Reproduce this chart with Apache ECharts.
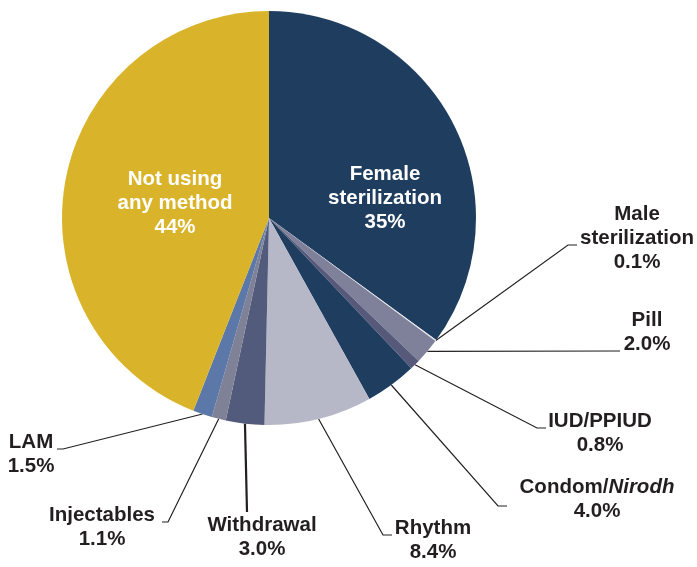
<!DOCTYPE html>
<html>
<head>
<meta charset="utf-8">
<script src="https://cdn.jsdelivr.net/npm/echarts@6/dist/echarts.min.js"></script>
<style>
html,body{margin:0;padding:0;background:#fff;}
#chart{width:697px;height:567px;}
</style>
</head>
<body>
<div id="chart"></div>
<script>
const categories = ['Female\nsterilization','Male\nsterilization','Pill','IUD/PPIUD','Condom/Nirodh','Rhythm','Withdrawal','Injectables','LAM','Not using\nany method'];
const values = [35, 0.1, 2.0, 0.8, 4.0, 8.4, 3.0, 1.1, 1.5, 44];
const colors = ['#1f3e5f','#e8e9ef','#7f8099','#56597a','#1f3e5f','#b6b8c8','#525b7c','#7f8297','#5b78a8','#d9b42a'];

// label anchors (center x, middle y) and leader-line elbows
const labelAnchors = [
  [385, 198], [637, 238], [647, 332], [600, 433], [597, 499],
  [433, 540], [262, 537], [102, 527], [31, 454], [175, 203]
];
const elbows = [
  null, [[568,245],[577,245]], [[619,351],[620,351]], [[537,428],[546,428]],
  [[498,506],[507,506]], [[383,535],[392,535]], [[247,512],[247,512]],
  [[168,522],[162,522]], [[63,449],[57,449]], null
];
const insideIdx = [0, 9];

function pctText(v){ return v >= 10 ? Math.round(v) + '%' : v.toFixed(1) + '%'; }

const chart = echarts.init(document.getElementById('chart'), null, {renderer:'canvas'});
const data = categories.map((c, i) => {
  const inside = insideIdx.indexOf(i) >= 0;
  return {
    name: c,
    value: values[i],
    itemStyle: {color: colors[i]},
    label: inside ? {color:'#ffffff'} : {},
    labelLine: {show: !inside, lineStyle: {width: i === 6 ? 2.2 : 1.2}}
  };
});

chart.setOption({
  animation: false,
  series: [{
    type: 'pie',
    center: [269, 218],
    radius: 207,
    startAngle: 90,
    clockwise: true,
    silent: true,
    avoidLabelOverlap: false,
    minShowLabelAngle: 0,
    data: data,
    label: {
      show: true,
      color: '#231f20',
      fontFamily: 'Liberation Sans, Arial, sans-serif',
      fontWeight: 'bold',
      fontSize: 20.5,
      lineHeight: 24,
      align: 'center',
      formatter: function(p){
        const name = p.name.replace('Nirodh', '{i|Nirodh}');
        return name + '\n' + pctText(p.value);
      },
      rich: {
        i: {fontStyle:'italic', fontWeight:'bold', fontSize:20.5, lineHeight:24, fontFamily:'Liberation Sans, Arial, sans-serif'}
      }
    },
    labelLine: {
      show: true,
      length: 20,
      length2: 10,
      lineStyle: {color:'#231f20', width:1.2}
    },
    labelLayout: function(params){
      const i = params.dataIndex;
      const a = labelAnchors[i];
      const res = {x: a[0], y: a[1], align: 'center', verticalAlign: 'middle'};
      const e = elbows[i];
      if (e && params.labelLinePoints) {
        res.labelLinePoints = [params.labelLinePoints[0], e[0], e[1]];
      }
      return res;
    }
  }]
});
</script>
</body>
</html>
